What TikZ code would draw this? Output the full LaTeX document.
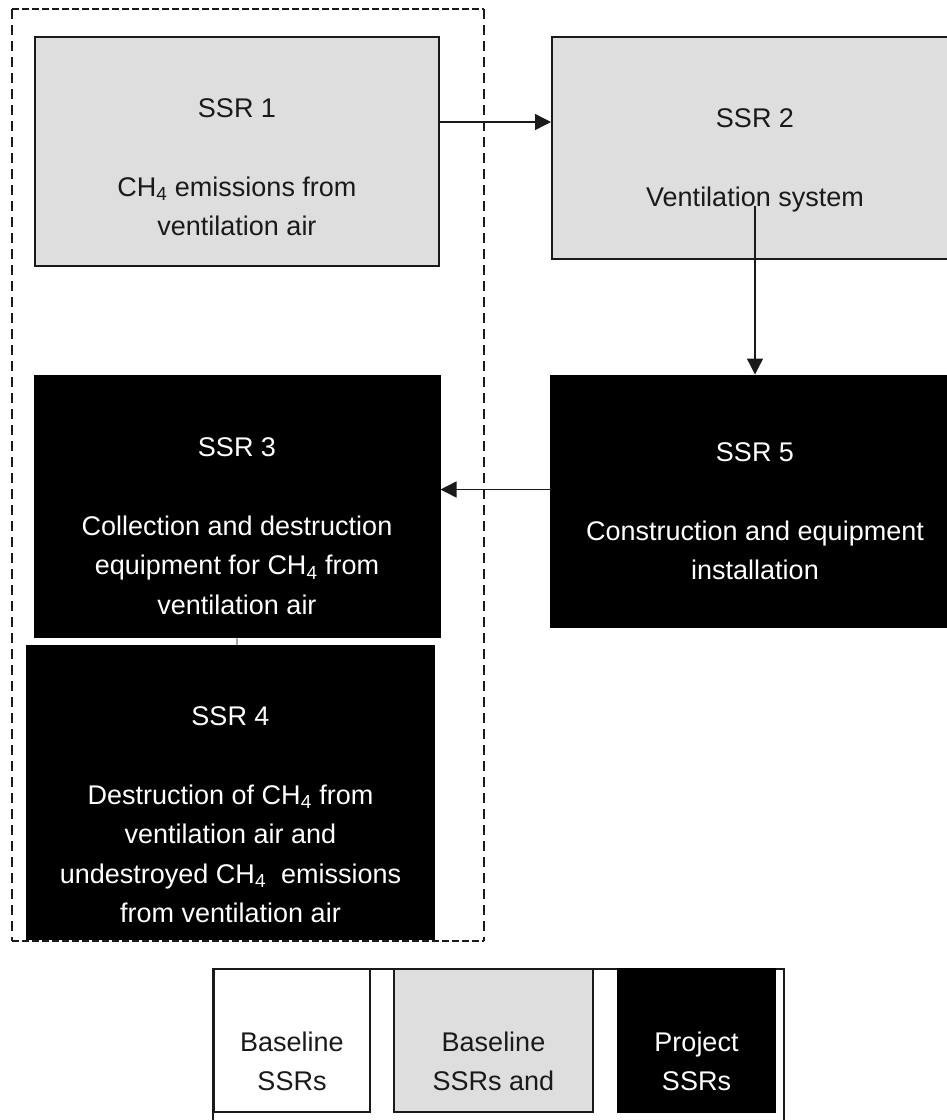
\documentclass[tikz,border=0pt]{standalone}
\usepackage{fontspec}
\setmainfont{Liberation Sans}
\usepackage{tikz}
\usetikzlibrary{arrows.meta}
\usetikzlibrary{calc}

\definecolor{ssrgray}{HTML}{DEDEDE}
\definecolor{ink}{HTML}{1A1A1A}

\begin{document}
\begin{tikzpicture}[x=1pt,y=-1pt,
  box/.style={draw=ink,line width=2pt,inner sep=0pt},
  graybox/.style={box,fill=ssrgray},
  blackbox/.style={box,fill=black,draw=black},
  txt/.style={anchor=north,inner sep=0pt,align=center,text=ink,font=\fontsize{27}{39.5}\selectfont},
  wtxt/.style={txt,text=white},
  arr/.style={draw=ink,line width=1.4pt,-{Triangle[length=16pt,width=16pt]}},
  dashv/.style={draw=ink,line width=2pt,dash pattern=on 10pt off 6pt},
  dashh/.style={draw=ink,line width=2pt,dash pattern=on 6.5pt off 3.5pt}]
  \useasboundingbox (0,0) rectangle (946,1120);
  \fill[white] (0,0) rectangle (946,1120);

  % SSR boxes
  \node[graybox,minimum width=404pt,minimum height=229pt] (ssr1) at (237,151.5) {};
  \node[graybox,minimum width=406pt,minimum height=222pt] (ssr2) at (755,148) {};
  \node[blackbox,minimum width=405pt,minimum height=261pt] (ssr3) at (237,506) {};
  \node[blackbox,minimum width=407pt,minimum height=293pt] (ssr4) at (230.5,792.5) {};
  \node[blackbox,minimum width=408pt,minimum height=251pt] (ssr5) at (755,501) {};

  \node[txt] (t1) at (237,98.3) {SSR 1\\[39.5pt]CH\textsubscript{4} emissions from\\ventilation air};
  \node[txt] (t2) at (755,108.3) {SSR 2\\[39.5pt]Ventilation system};
  \node[wtxt] (t3) at (237,437.3) {SSR 3\\[39.5pt]Collection and destruction\\equipment for CH\textsubscript{4} from\\ventilation air};
  \node[wtxt] (t4) at (230.5,706.3) {SSR 4\\[39.5pt]Destruction of CH\textsubscript{4} from\\ventilation air and\\undestroyed CH\textsubscript{4}\ \ emissions\\from ventilation air};
  \node[wtxt] (t5) at (755,442.3) {SSR 5\\[39.5pt]Construction and equipment\\installation};

  % flows
  \draw[arr] ([yshift=29.5pt]ssr1.east) -- ([yshift=29.5pt]ssr1.east -| ssr2.west);
  \draw[arr] ([yshift=6pt]t2.south) -- (ssr5.north);
  \draw[arr] ([yshift=11.5pt]ssr5.west) -- ([yshift=11.5pt]ssr5.west -| ssr3.east);
  \draw[gray!70,line width=1.2pt] (ssr3.south) -- (ssr3.south |- ssr4.north);

  % project boundary
  \draw[dashh] (12,9) -- (484,9);
  \draw[dashh] (12,941) -- (484,941);
  \draw[dashv] (12,9) -- (12,941);
  \draw[dashv] (484,9) -- (484,941);

  % legend
  \draw[ink,line width=2pt] (213,1140) |- (784,969) -- (784,1140);
  \node[box,fill=white,minimum width=156pt,minimum height=143pt] (lg1) at (292,1040.5) {};
  \node[box,fill=ssrgray,line width=1.5pt,minimum width=199pt,minimum height=143pt] (lg2) at (493.5,1040.5) {};
  \node[blackbox,minimum width=157pt,minimum height=143pt] (lg3) at (696.5,1040.5) {};
  \node[txt] (l1) at (292,1031.3) {Baseline\\SSRs};
  \node[txt] (l2) at (493.5,1031.3) {Baseline\\SSRs and};
  \node[wtxt] (l3) at (696.5,1031.3) {Project\\SSRs};
\end{tikzpicture}
\end{document}
